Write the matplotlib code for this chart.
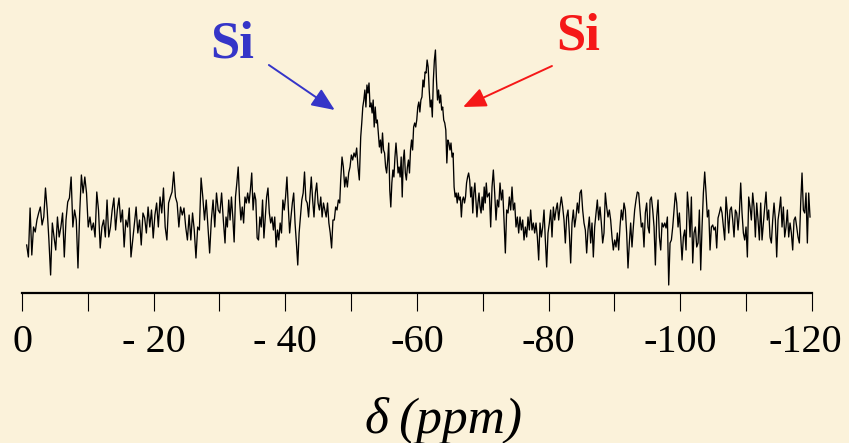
import numpy as np
import matplotlib.pyplot as plt
import matplotlib.transforms as mtransforms

# 29Si NMR trace, in segments (ppm range, intensity in arbitrary units)
seg1_ppm = (-0.71, -30.84)
seg1 = [15, 3, 52, 5, 33, 28, 40, 47, 53, 35, 43, 72, 50, 20, -15, 37, 23, 10, 43, 23, 33, 47, 3, 40, 58,
        62, 83, 33, 50, 40, -8, 47, 85, 67, 83, 67, 33, 43, 30, 37, 23, 68, 50, 12, 33, 40, 23, 60, 23, 33,
        50, 62, 30, 50, 62, 38, 50, 13, 40, 33, 52, 3, 20, 37, 53, 27, 40, 15, 47, 42, 27, 53, 33, 50, 22,
        45, 57, 33, 63, 47, 72, 33, 20, 57, 63, 68, 88, 63, 57, 33, 53, 45, 52, 33, 20, 45, 20, 47, 30, 2,
        33, 30, 82, 63, 40, 60, 33, 7, 40, 60, 33, 67, 50, 47, 67, 40, 17]

seg2_ppm = (-30.99, -48.26)
seg2 = [43, 33, 60, 40, 63, 43, 18, 63, 77, 93, 60, 40, 53, 37, 63, 57, 67, 57, 70, 87, 50, 67, 60, 22,
        20, 43, 33, 60, 22, 43, 63, 72, 47, 37, 43, 30, 43, 13, 30, 20, 37, 27, 60, 50, 63, 83, 53, 27,
        43, 57, 67, 37, 17, -5, 27, 43, 60, 67, 88, 60, 57, 43, 63, 83, 60, 43, 67, 77, 57, 50, 63, 43,
        57, 50, 43, 57, 37, 27, 12, 40, 40, 53, 50, 60, 57]

seg3_ppm = (-48.41, -51.24)
seg3 = [80, 103, 93, 73, 83, 73, 87, 93, 105, 100, 107, 103, 112, 93, 80]

seg4_ppm = (-51.45, -70.68)
seg4 = [123, 137, 153, 160, 170, 153, 175, 167, 177, 153, 157, 147, 160, 133, 153, 137, 140, 127, 113,
        120, 107, 127, 110, 107, 93, 87, 100, 117, 70, 53, 77, 90, 83, 103, 117, 103, 87, 93, 83, 103, 63,
        100, 110, 87, 80, 93, 100, 87, 110, 120, 110, 133, 137, 133, 140, 153, 158, 148, 160, 163, 180,
        173, 188, 187, 200, 193, 170, 153, 160, 143, 180, 200, 210, 180, 160, 170, 157, 165, 150, 153,
        140, 137, 130, 97, 120, 117, 110, 117, 103, 107, 73, 63, 67, 57, 67, 60, 63, 43, 60, 63, 57, 63,
        77, 83, 87, 80, 63, 73, 47, 67, 77, 60, 43, 57, 67, 53, 47, 63, 50, 73, 57, 77, 63]

seg5_ppm = (-70.99, -95.29)
seg5 = [67, 33, 73, 90, 67, 40, 60, 53, 77, 60, 70, 40, 7, 50, 47, 63, 50, 73, 50, 57, 33, 43, 27, 43, 30,
        40, 20, 33, 23, 43, 30, 50, 30, 37, 27, 37, 23, 0, 37, 23, 33, 50, 20, -7, 27, 37, 50, 23, 53, 40,
        50, 57, 40, 53, 63, 53, 40, 17, 43, 50, 27, -3, 37, 50, 33, 43, 57, 47, 67, 70, 50, 37, 30, 7, 30,
        43, 17, 37, 3, 33, 47, 60, 40, 53, 37, 17, 27, 67, 53, 43, 50, 40, 23, 10, 20, 13, 27, 10, 33, 50,
        40, 57, 50, 27, -8, 17, 37, 13, 33, 50, 60, 68, 67, 50, 33, 37, 13, 47, 57, 33, 27]

seg6_ppm = (-95.40, -119.70)
seg6 = [60, 63, 50, 33, -5, 43, 60, 23, 10, 37, 33, 37, 32, 43, -25, 17, 20, 33, 50, 67, 57, 33, 47, 23,
        0, 23, 30, 10, 68, 50, 23, 63, -3, 27, 33, 13, 17, 50, -10, 33, 67, 88, 67, 43, 50, 10, 33, 35, 30,
        33, 12, 42, 47, 53, 47, 33, 20, 63, 47, 27, 50, 53, 40, 23, 50, 47, 30, 47, 77, 47, 27, 20, 33, 3,
        63, 53, 40, 67, 53, 23, 57, 40, 20, 57, 20, 37, 53, 68, 40, 50, 23, 17, 40, 57, 40, 3, 40, 50, 63,
        33, 53, 23, 33, 50, 23, 37, 27, 10, 40, 43, 33, 23, 17, 57, 87, 50, 47, 67, 17, 67, 43]

segments = [(seg1_ppm, seg1), (seg2_ppm, seg2), (seg3_ppm, seg3),
            (seg4_ppm, seg4), (seg5_ppm, seg5), (seg6_ppm, seg6)]

tick_major = [0, -20, -40, -60, -80, -100, -120]
tick_labels = ["0", "- 20", "- 40", "-60", "-80", "-100", "-120"]
tick_minor = [-10, -30, -50, -70, -90, -110]

bg = "#FBF2DA"
blue = "#3535C8"
red = "#F51818"
serif = ["Liberation Serif", "DejaVu Serif"]

ppm = np.concatenate([np.linspace(a, b, len(v)) for (a, b), v in segments])
inten = np.concatenate([np.array(v, dtype=float) for _, v in segments])

fig = plt.figure(figsize=(8.49, 4.43), dpi=100, facecolor=bg)
ax = fig.add_axes([22 / 849, 150 / 443, 790 / 849, 293 / 443])
ax.set_facecolor(bg)

ax.plot(ppm, inten, color="black", lw=0.95)

ax.set_xlim(0, -120)
ax.set_ylim(-33, 260)
for s in ["top", "left", "right"]:
    ax.spines[s].set_visible(False)
ax.spines["bottom"].set_linewidth(1.6)
ax.set_yticks([])
ax.set_xticks(tick_major)
ax.set_xticklabels(tick_labels, fontsize=29, family=serif)
ax.set_xticks(tick_minor, minor=True)
ax.tick_params(axis="x", which="both", direction="out", length=13, width=0.8, pad=9)

# last label ends just past the axis end, as in the original
last = ax.get_xticklabels()[-1]
last.set_horizontalalignment("right")
last.set_transform(last.get_transform() + mtransforms.ScaledTranslation(0.30, 0, fig.dpi_scale_trans))

fig.text(443 / 849, 0.0226, "δ\u2009(ppm)", ha="center", va="baseline", fontsize=37,
         style="italic", family=serif)

# peak labels and arrows
ax.text(-31.9, 202, "Si", color=blue, fontsize=38, fontweight="bold", ha="center", va="baseline",
        family=serif)
ax.annotate("", xy=(-47.5, 150), xytext=(-37.5, 195),
            arrowprops=dict(arrowstyle="-|>,head_length=0.7,head_width=0.3", color=blue, lw=1.4,
                            mutation_scale=20, shrinkA=0, shrinkB=0))

ax.text(-84.5, 210, "Si", color=red, fontsize=38, fontweight="bold", ha="center", va="baseline",
        family=serif)
ax.annotate("", xy=(-67.0, 153), xytext=(-80.5, 194),
            arrowprops=dict(arrowstyle="-|>,head_length=0.7,head_width=0.3", color=red, lw=1.4,
                            mutation_scale=20, shrinkA=0, shrinkB=0))

fig.savefig("out.png", dpi=100, facecolor=bg)
